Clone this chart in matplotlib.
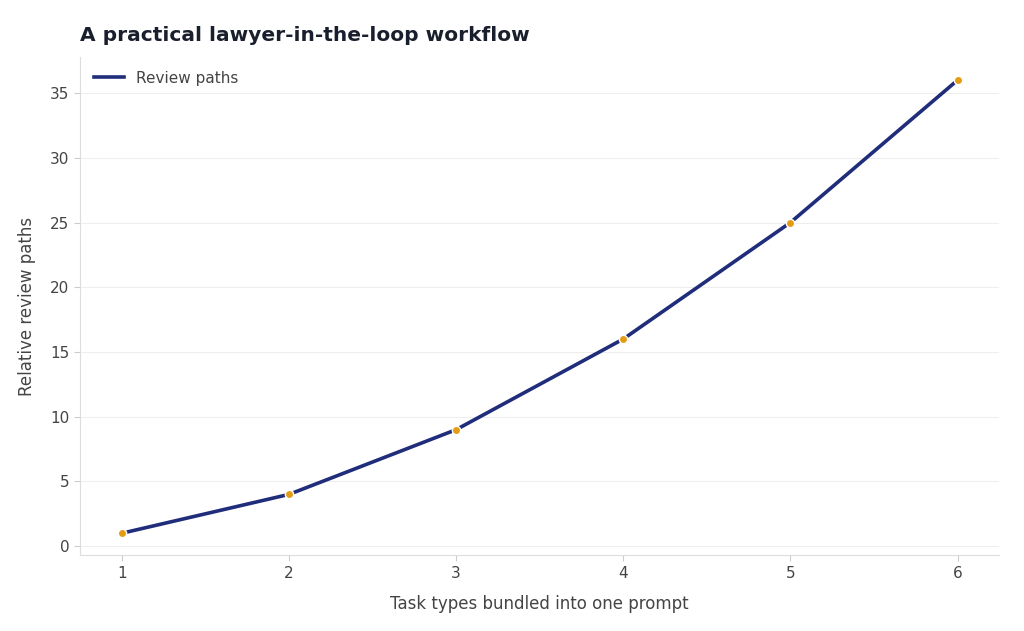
import matplotlib
matplotlib.use("Agg")
import matplotlib.pyplot as plt

x = [1, 2, 3, 4, 5, 6]
paths = [1, 4, 9, 16, 25, 36]

fig = plt.figure(figsize=(10.24, 6.31), dpi=100)
ax = fig.add_axes([0.078, 0.12, 0.898, 0.79])
ax.plot(x, paths, color="#1f2d7a", lw=2.6, label="Review paths", zorder=2)
ax.scatter(x, paths, color="#e39d14", edgecolor="white", linewidth=1, s=36, zorder=3)
ax.set_xlim(0.75, 6.25)
ax.set_ylim(-0.7, 37.8)
ax.set_yticks(range(0, 36, 5))
ax.grid(axis="y", color="#eeeeee", lw=0.8)
ax.set_axisbelow(True)
for s in ["top", "right"]:
    ax.spines[s].set_visible(False)
for s in ["left", "bottom"]:
    ax.spines[s].set_color("#dddddd")
ax.tick_params(colors="#444444", labelsize=11, length=4)
ax.tick_params(axis="both", color="#cccccc")
ax.set_xlabel("Task types bundled into one prompt", fontsize=12, color="#444444", labelpad=10)
ax.set_ylabel("Relative review paths", fontsize=12, color="#444444", labelpad=10)
fig.text(0.078, 0.935, "A practical lawyer-in-the-loop workflow", fontsize=14.5,
         fontweight="bold", color="#1a1f2e")
leg = ax.legend(loc="upper left", frameon=False, fontsize=11)
for t in leg.get_texts():
    t.set_color("#444444")
fig.savefig("out.png", dpi=100, facecolor="white")
